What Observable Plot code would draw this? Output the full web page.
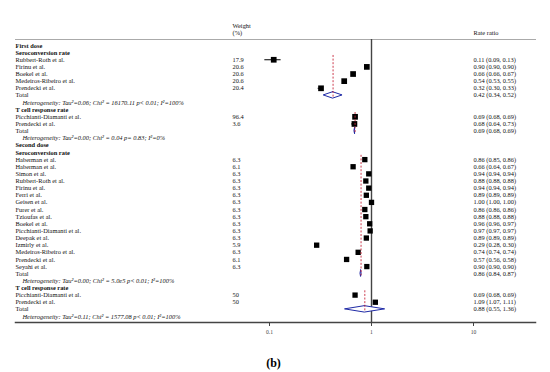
<!DOCTYPE html>
<html>
<head>
<meta charset="utf-8">
<script src="https://cdn.jsdelivr.net/npm/d3@7"></script>
<script src="https://cdn.jsdelivr.net/npm/@observablehq/plot@0.6"></script>
<style>
  html, body { margin: 0; padding: 0; background: #fff; }
  #chart { width: 550px; height: 372px; }
</style>
</head>
<body>
<div id="chart"></div>
<script>
// ---- data ----
const doseLabels = ["First dose", "Second dose"];
const outcomeLabels = ["Seroconversion rate", "T cell response rate"];
const xTicks = [0.1, 1, 10];

// First dose – seroconversion
const firstSeroStudies = ["Rubbert-Roth et al.", "Firinu et al.", "Boekel et al.", "Medeiros-Ribeiro et al.", "Prendecki et al."];
const firstSeroWeights = [17.9, 20.6, 20.6, 20.6, 20.4];
const firstSeroRR = [0.11, 0.90, 0.66, 0.54, 0.32];
const firstSeroLo = [0.09, 0.90, 0.66, 0.53, 0.30];
const firstSeroHi = [0.13, 0.90, 0.67, 0.55, 0.33];
const firstSeroTotal = [0.42, 0.34, 0.52];
const firstSeroDiamond = [0.42, 0.34, 0.52];
const firstSeroHet = "Heterogeneity: Tau²=0.06; Chi² = 16170.11 p< 0.01; I²=100%";

// First dose – T cell
const firstTcellStudies = ["Picchianti-Diamanti et al.", "Prendecki et al."];
const firstTcellWeights = [96.4, 3.6];
const firstTcellRR = [0.69, 0.68];
const firstTcellLo = [0.68, 0.64];
const firstTcellHi = [0.69, 0.73];
const firstTcellTotal = [0.69, 0.68, 0.69];
const firstTcellDiamond = [0.69, 0.68, 0.69];
const firstTcellHet = "Heterogeneity: Tau²=0.00; Chi² = 0.04 p= 0.83; I²=0%";

// Second dose – seroconversion
const secondSeroStudies = ["Haberman et al.", "Haberman et al.", "Simon et al.", "Rubbert-Roth et al.", "Firinu et al.", "Ferri et al.", "Geisen et al.", "Furer et al.", "Tzioufas et al.", "Boekel et al.", "Picchianti-Diamanti et al.", "Deepak et al.", "Izmirly et al.", "Medeiros-Ribeiro et al.", "Prendecki et al.", "Seyahi et al."];
const secondSeroWeights = [6.3, 6.1, 6.3, 6.3, 6.3, 6.3, 6.3, 6.3, 6.3, 6.3, 6.3, 6.3, 5.9, 6.3, 6.1, 6.3];
const secondSeroRR = [0.86, 0.66, 0.94, 0.88, 0.94, 0.89, 1.00, 0.86, 0.88, 0.96, 0.97, 0.89, 0.29, 0.74, 0.57, 0.90];
const secondSeroLo = [0.85, 0.64, 0.94, 0.88, 0.94, 0.89, 1.00, 0.86, 0.88, 0.96, 0.97, 0.89, 0.28, 0.74, 0.56, 0.90];
const secondSeroHi = [0.86, 0.67, 0.94, 0.88, 0.94, 0.89, 1.00, 0.86, 0.88, 0.97, 0.97, 0.89, 0.30, 0.74, 0.58, 0.90];
const secondSeroTotal = [0.86, 0.84, 0.87];
const secondSeroDiamond = [0.79, 0.78, 0.80];
const secondSeroHet = "Heterogeneity: Tau²=0.00; Chi² = 5.0e5 p< 0.01; I²=100%";

// Second dose – T cell
const secondTcellStudies = ["Picchianti-Diamanti et al.", "Prendecki et al."];
const secondTcellWeights = [50, 50];
const secondTcellRR = [0.69, 1.09];
const secondTcellLo = [0.68, 1.07];
const secondTcellHi = [0.69, 1.11];
const secondTcellTotal = [0.88, 0.55, 1.36];
const secondTcellDiamond = [0.86, 0.55, 1.36];
const secondTcellHet = "Heterogeneity: Tau²=0.11; Chi² = 1577.08 p< 0.01; I²=100%";

// ---- build rows ----
const groups = [
  {dose: 0, outcome: 0, studies: firstSeroStudies, w: firstSeroWeights, rr: firstSeroRR, lo: firstSeroLo, hi: firstSeroHi, total: firstSeroTotal, diamond: firstSeroDiamond, het: firstSeroHet},
  {dose: 0, outcome: 1, studies: firstTcellStudies, w: firstTcellWeights, rr: firstTcellRR, lo: firstTcellLo, hi: firstTcellHi, total: firstTcellTotal, diamond: firstTcellDiamond, het: firstTcellHet},
  {dose: 1, outcome: 0, studies: secondSeroStudies, w: secondSeroWeights, rr: secondSeroRR, lo: secondSeroLo, hi: secondSeroHi, total: secondSeroTotal, diamond: secondSeroDiamond, het: secondSeroHet},
  {dose: 1, outcome: 1, studies: secondTcellStudies, w: secondTcellWeights, rr: secondTcellRR, lo: secondTcellLo, hi: secondTcellHi, total: secondTcellTotal, diamond: secondTcellDiamond, het: secondTcellHet}
];
const fmt = v => v.toFixed(2);
const boldRows = [], plainRows = [], hetRows = [], estRows = [], diamondPts = [], dashes = [];
let row = 0;
doseLabels.forEach((dl, d) => {
  boldRows.push({row, label: dl}); row++;
  groups.filter(g => g.dose === d).forEach((g, gi) => {
    boldRows.push({row, label: outcomeLabels[g.outcome]}); row++;
    const first = row;
    g.studies.forEach((s, i) => {
      plainRows.push({row, label: s, weight: String(g.w[i]), ci: `${fmt(g.rr[i])} (${fmt(g.lo[i])}, ${fmt(g.hi[i])})`});
      estRows.push({row, dose: d, rr: g.rr[i], lo: g.lo[i], hi: g.hi[i]});
      row++;
    });
    plainRows.push({row, label: "Total", weight: "", ci: `${fmt(g.total[0])} (${fmt(g.total[1])}, ${fmt(g.total[2])})`});
    const id = `${d}-${gi}`, h = 0.45;
    diamondPts.push({id, y: row - h, x1: g.diamond[0], x2: g.diamond[0]});
    diamondPts.push({id, y: row, x1: g.diamond[1], x2: g.diamond[2]});
    diamondPts.push({id, y: row + h, x1: g.diamond[0], x2: g.diamond[0]});
    dashes.push({x: g.diamond[0], y1: first - 0.6, y2: row + 0.3});
    row++;
    hetRows.push({row, label: g.het}); row++;
  });
});
const lastRow = row - 1;

const FONT = "Liberation Serif";
const FS = 6.4;
const INK = "#111";

const chart = Plot.plot({
  width: 550,
  height: 372,
  marginLeft: 15,
  marginRight: 15,
  marginTop: 39,
  marginBottom: 50,
  x: {type: "log", domain: [0.1, 10], range: [269, 473]},
  y: {domain: [0, lastRow], range: [45, 316], axis: null},
  style: {fontFamily: FONT, background: "#fff"},
  marks: [
    Plot.frame({anchor: "top", stroke: "#aaa", strokeWidth: 1}),
    Plot.frame({anchor: "bottom", stroke: "#444", strokeWidth: 1.5}),
    Plot.ruleX([1], {stroke: "#444", strokeWidth: 1.4}),
    Plot.axisX({ticks: xTicks, tickFormat: d => String(d), tickSize: 4, tickPadding: 4, fontSize: 5.6, fontFamily: FONT, stroke: "#444", color: "#444", label: null}),
    // CI lines and squares
    Plot.ruleY(estRows, {y: "row", x1: "lo", x2: "hi", stroke: "#000", strokeWidth: 1}),
    Plot.dot(estRows, {x: "rr", y: "row", symbol: "square", r: d => d.dose === 0 ? 1.9 : 1.65, fill: "#000", stroke: null}),
    // pooled diamonds
    Plot.areaX(diamondPts, {x1: "x1", x2: "x2", y: "y", z: "id", fill: "#fff", stroke: "#1f2aa6", strokeWidth: 1, curve: "linear"}),
    Plot.ruleX(dashes, {x: "x", y1: "y1", y2: "y2", stroke: "#c8283c", strokeWidth: 0.9, strokeDasharray: "2,1.6"}),
    // text columns
    Plot.text(boldRows, {y: "row", text: "label", frameAnchor: "left", textAnchor: "start", fontSize: FS, fontWeight: "bold", fill: INK}),
    Plot.text(plainRows, {y: "row", text: "label", frameAnchor: "left", textAnchor: "start", fontSize: FS, fill: INK}),
    Plot.text(hetRows, {y: "row", text: "label", frameAnchor: "left", dx: 7, textAnchor: "start", fontSize: FS, fontStyle: "italic", fill: INK}),
    Plot.text(plainRows, {y: "row", text: "weight", frameAnchor: "left", dx: 217, textAnchor: "start", fontSize: FS, fill: INK}),
    Plot.text(plainRows, {y: "row", text: "ci", frameAnchor: "left", dx: 458, textAnchor: "start", fontSize: FS, fill: INK}),
    // headers
    Plot.text(["Weight\n(%)"], {text: d => d, frameAnchor: "top-left", dx: 217, dy: -10, textAnchor: "start", lineAnchor: "middle", lineHeight: 1.0, fontSize: FS, fill: INK}),
    Plot.text(["Rate ratio"], {text: d => d, frameAnchor: "top-left", dx: 458, dy: -7, textAnchor: "start", lineAnchor: "middle", fontSize: FS, fill: INK}),
    Plot.text(["(b)"], {text: d => d, frameAnchor: "bottom-left", dx: 258, dy: 41, textAnchor: "middle", lineAnchor: "middle", fontSize: 12, fontWeight: "bold", fill: "#000"})
  ]
});
document.getElementById("chart").appendChild(chart);
</script>
</body>
</html>
